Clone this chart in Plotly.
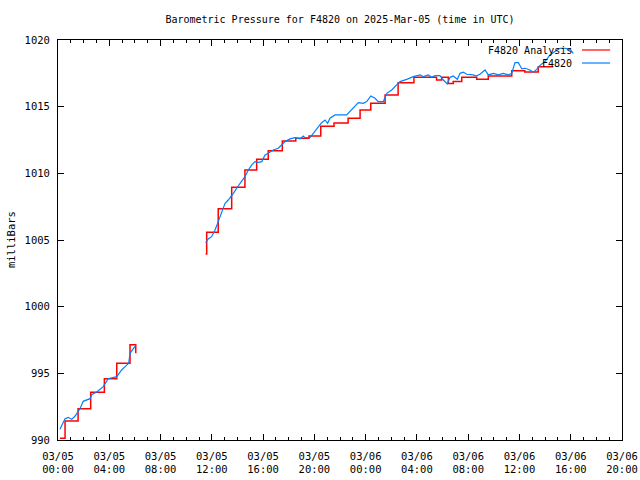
import plotly.graph_objects as go

# ---- data ----
analysis_time_1 = ["2025-03-05 00:09", "2025-03-05 00:33", "2025-03-05 01:34", "2025-03-05 02:33",
                   "2025-03-05 03:37", "2025-03-05 04:35", "2025-03-05 05:37", "2025-03-05 06:04"]
analysis_val_1 = [990.13, 991.43, 992.35, 993.58, 994.6, 995.75, 997.15, 996.5]

analysis_time_2 = ["2025-03-05 11:31", "2025-03-05 11:36", "2025-03-05 12:30", "2025-03-05 13:33",
                   "2025-03-05 14:35", "2025-03-05 15:30", "2025-03-05 16:24", "2025-03-05 17:30",
                   "2025-03-05 18:33", "2025-03-05 19:35", "2025-03-05 20:30", "2025-03-05 21:32",
                   "2025-03-05 22:38", "2025-03-05 23:34", "2025-03-06 00:24", "2025-03-06 01:31",
                   "2025-03-06 02:32", "2025-03-06 03:46", "2025-03-06 05:32", "2025-03-06 05:56",
                   "2025-03-06 06:27", "2025-03-06 06:50", "2025-03-06 07:30", "2025-03-06 08:40",
                   "2025-03-06 09:34", "2025-03-06 11:24", "2025-03-06 12:25", "2025-03-06 13:28",
                   "2025-03-06 14:39"]
analysis_val_2 = [1003.95, 1005.58, 1007.35, 1008.95, 1010.25, 1011.05, 1011.7, 1012.43,
                  1012.63, 1012.8, 1013.53, 1013.77, 1014.13, 1014.75, 1015.25, 1015.88,
                  1016.8, 1017.2, 1017.0, 1017.2, 1016.73, 1016.88, 1017.2, 1017.05,
                  1017.3, 1017.7, 1017.6, 1018.0, 1018.0]

obs_time_1 = ["2025-03-05 00:09", "2025-03-05 00:33", "2025-03-05 00:48", "2025-03-05 01:04",
              "2025-03-05 01:20", "2025-03-05 01:43", "2025-03-05 01:58", "2025-03-05 02:14",
              "2025-03-05 02:30", "2025-03-05 02:38", "2025-03-05 03:01", "2025-03-05 03:32",
              "2025-03-05 03:55", "2025-03-05 04:35", "2025-03-05 04:58", "2025-03-05 05:14",
              "2025-03-05 05:31", "2025-03-05 05:37", "2025-03-05 06:04"]
obs_val_1 = [990.8, 991.6, 991.7, 991.55, 991.8, 992.35, 992.9, 993.0, 993.1, 993.4,
             993.6, 994.0, 994.6, 994.75, 995.25, 995.5, 995.75, 996.5, 997.1]

obs_time_2 = ["2025-03-05 11:31", "2025-03-05 11:44", "2025-03-05 11:59", "2025-03-05 12:15",
              "2025-03-05 12:30", "2025-03-05 12:46", "2025-03-05 13:02", "2025-03-05 13:17",
              "2025-03-05 13:33", "2025-03-05 13:41", "2025-03-05 13:56", "2025-03-05 14:20",
              "2025-03-05 14:35", "2025-03-05 14:51", "2025-03-05 15:07", "2025-03-05 15:22",
              "2025-03-05 15:38", "2025-03-05 15:54", "2025-03-05 16:09", "2025-03-05 16:24",
              "2025-03-05 16:48", "2025-03-05 17:11", "2025-03-05 17:27", "2025-03-05 17:43",
              "2025-03-05 18:06", "2025-03-05 18:29", "2025-03-05 18:53", "2025-03-05 19:08",
              "2025-03-05 19:16", "2025-03-05 19:40", "2025-03-05 19:55", "2025-03-05 20:18",
              "2025-03-05 20:34", "2025-03-05 20:50", "2025-03-05 21:02", "2025-03-05 21:13",
              "2025-03-05 21:37", "2025-03-05 22:31", "2025-03-05 22:55", "2025-03-05 23:26",
              "2025-03-05 23:49", "2025-03-06 00:05", "2025-03-06 00:24", "2025-03-06 00:44",
              "2025-03-06 00:59", "2025-03-06 01:23", "2025-03-06 01:39", "2025-03-06 02:02",
              "2025-03-06 02:25", "2025-03-06 02:41", "2025-03-06 03:12", "2025-03-06 03:43",
              "2025-03-06 04:15", "2025-03-06 04:30", "2025-03-06 04:53", "2025-03-06 05:09",
              "2025-03-06 05:25", "2025-03-06 05:48", "2025-03-06 06:04", "2025-03-06 06:22",
              "2025-03-06 06:35", "2025-03-06 06:50", "2025-03-06 07:09", "2025-03-06 07:22",
              "2025-03-06 07:37", "2025-03-06 07:53", "2025-03-06 08:24", "2025-03-06 08:37",
              "2025-03-06 08:55", "2025-03-06 09:19", "2025-03-06 09:34", "2025-03-06 09:58",
              "2025-03-06 10:21", "2025-03-06 10:44", "2025-03-06 11:08", "2025-03-06 11:24",
              "2025-03-06 11:39", "2025-03-06 11:55", "2025-03-06 12:11", "2025-03-06 12:26",
              "2025-03-06 12:49", "2025-03-06 13:05", "2025-03-06 13:21", "2025-03-06 13:36",
              "2025-03-06 14:00", "2025-03-06 14:23", "2025-03-06 14:46", "2025-03-06 15:10",
              "2025-03-06 15:33", "2025-03-06 15:57", "2025-03-06 16:12"]
obs_val_2 = [1004.8, 1005.1, 1005.25, 1005.75, 1006.38, 1007.0, 1007.75, 1008.0,
             1008.3, 1008.5, 1008.88, 1009.45, 1009.75, 1010.25, 1010.63, 1010.88,
             1010.83, 1010.88, 1011.38, 1011.5, 1011.75, 1011.88, 1012.13, 1012.38,
             1012.58, 1012.68, 1012.58, 1012.8, 1012.68, 1012.7, 1013.0, 1013.5,
             1013.8, 1014.0, 1013.75, 1014.13, 1014.38, 1014.38, 1014.75, 1015.3,
             1015.25, 1015.38, 1015.8, 1015.63, 1015.38, 1015.38, 1016.0, 1016.25,
             1016.63, 1016.88, 1017.05, 1017.25, 1017.38, 1017.25, 1017.38, 1017.2,
             1017.33, 1017.33, 1017.0, 1016.7, 1017.2, 1017.3, 1017.05, 1017.5,
             1017.58, 1017.43, 1017.38, 1017.3, 1017.43, 1017.75, 1017.38, 1017.5,
             1017.38, 1017.5, 1017.38, 1017.5, 1018.3, 1018.3, 1017.83, 1017.88,
             1017.75, 1017.58, 1017.8, 1018.1, 1018.38, 1018.88, 1019.13, 1019.38,
             1019.38, 1019.3, 1019.0]

tick_vals = ["2025-03-05 00:00", "2025-03-05 04:00", "2025-03-05 08:00", "2025-03-05 12:00",
             "2025-03-05 16:00", "2025-03-05 20:00", "2025-03-06 00:00", "2025-03-06 04:00",
             "2025-03-06 08:00", "2025-03-06 12:00", "2025-03-06 16:00", "2025-03-06 20:00"]
tick_text = ["03/05<br>00:00", "03/05<br>04:00", "03/05<br>08:00", "03/05<br>12:00",
             "03/05<br>16:00", "03/05<br>20:00", "03/06<br>00:00", "03/06<br>04:00",
             "03/06<br>08:00", "03/06<br>12:00", "03/06<br>16:00", "03/06<br>20:00"]
y_ticks = [990, 995, 1000, 1005, 1010, 1015, 1020]

series_names = ["F4820 Analysis", "F4820"]
series_colors = ["#ff0000", "#0080ff"]

FONT = "DejaVu Sans Mono"

fig = go.Figure()
fig.add_trace(go.Scatter(
    x=analysis_time_1 + [None] + analysis_time_2,
    y=analysis_val_1 + [None] + analysis_val_2,
    mode="lines", line=dict(color=series_colors[0], width=1.5, shape="hv"),
    connectgaps=False, name=series_names[0], showlegend=False))
fig.add_trace(go.Scatter(
    x=obs_time_1 + [None] + obs_time_2,
    y=obs_val_1 + [None] + obs_val_2,
    mode="lines", line=dict(color=series_colors[1], width=1.2),
    connectgaps=False, name=series_names[1], showlegend=False))

# gnuplot-style key: text on the left, sample line on the right
for i, (nm, col) in enumerate(zip(series_names, series_colors)):
    yk = 0.975 - i * 0.0325
    fig.add_annotation(x=0.915, y=yk, xref="paper", yref="paper", text=nm,
                       showarrow=False, xanchor="right", yanchor="middle",
                       font=dict(family=FONT, size=10, color="black"))
    fig.add_shape(type="line", xref="paper", yref="paper", x0=0.929, x1=0.979,
                  y0=yk, y1=yk, line=dict(color=col, width=1.2))

# y-axis label
fig.add_annotation(x=-0.0833, y=0.5, xref="paper", yref="paper", text="milliBars",
                   showarrow=False, textangle=-90, xanchor="center", yanchor="middle",
                   font=dict(family=FONT, size=10.5, color="black"))

fig.update_layout(
    width=640, height=480,
    margin=dict(l=58, r=18, t=40, b=40),
    paper_bgcolor="white", plot_bgcolor="white",
    font=dict(family=FONT, size=10.5, color="black"),
    title=dict(text="Barometric Pressure for F4820 on 2025-Mar-05 (time in UTC)",
               x=0.5, xref="paper", xanchor="center", y=1 - 19 / 480, yanchor="middle",
               font=dict(family=FONT, size=10, color="black")),
)
fig.update_xaxes(
    range=["2025-03-05 00:00", "2025-03-06 20:00"],
    tickmode="array", tickvals=tick_vals, ticktext=tick_text,
    ticks="inside", ticklen=6, tickcolor="black", tickwidth=1,
    minor=dict(dtick=3600000, ticks="inside", ticklen=3, tickcolor="black", showgrid=False),
    showline=True, linecolor="black", linewidth=1, mirror="ticks",
    showgrid=False, zeroline=False, automargin=False, ticklabelstandoff=6,
    tickfont=dict(family=FONT, size=10.5, color="black"))
fig.update_yaxes(
    range=[990, 1020], tickmode="array", tickvals=y_ticks,
    ticks="inside", ticklen=6, tickcolor="black", tickwidth=1,
    showline=True, linecolor="black", linewidth=1, mirror="ticks",
    showgrid=False, zeroline=False, automargin=False, ticklabelstandoff=5,
    tickfont=dict(family=FONT, size=10.5, color="black"))

fig.write_html("out.html")
